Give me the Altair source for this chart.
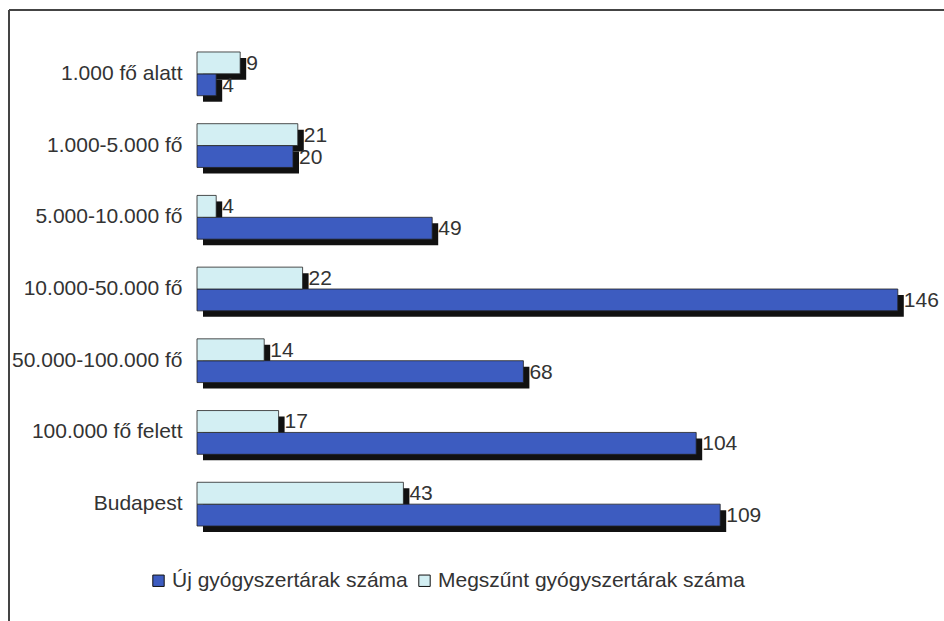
import altair as alt
import pandas as pd

categories = ["1.000 fő alatt", "1.000-5.000 fő", "5.000-10.000 fő", "10.000-50.000 fő",
              "50.000-100.000 fő", "100.000 fő felett", "Budapest"]
uj = [4, 20, 49, 146, 68, 104, 109]
megszunt = [9, 21, 4, 22, 14, 17, 43]
series = ["Új gyógyszertárak száma", "Megszűnt gyógyszertárak száma"]
colors = ["#3D5CC0", "#D3EFF3"]

rows = []
for c, a, b in zip(categories, uj, megszunt):
    rows.append({"cat": c, "series": series[0], "v": a})
    rows.append({"cat": c, "series": series[1], "v": b})
df = pd.DataFrame(rows)

FONT = "Liberation Sans"
H = 502
SH = 6  # shadow offset
order = [series[1], series[0]]

y = alt.Y("cat:N", sort=categories, title=None,
          scale=alt.Scale(paddingInner=0.39, paddingOuter=0.195),
          axis=alt.Axis(domain=False, ticks=False, labelPadding=15, labelFontSize=21,
                        labelColor="#333333", labelFont=FONT, labelLimit=300))
y_sh = alt.Y("cat:N", sort=categories, title=None,
             scale=alt.Scale(paddingInner=0.39, paddingOuter=0.195, range=[SH, H + SH]),
             axis=None)
y_lab = alt.Y("cat:N", sort=categories, title=None,
              scale=alt.Scale(paddingInner=0.39, paddingOuter=0.195), axis=None)
yoff = alt.YOffset("series:N", sort=order,
                   scale=alt.Scale(domain=order, paddingInner=0, paddingOuter=0))
yoff_lab = alt.YOffset("series:N", sort=order,
                       scale=alt.Scale(type="point", domain=order, padding=0.5))
x = alt.X("v:Q", scale=alt.Scale(domain=[0, 150]), axis=None, title=None)

base = alt.Chart(df)

shadow = base.mark_bar(color="#111111", xOffset=SH).encode(x=x, y=y_sh, yOffset=yoff)

bars = base.mark_bar(stroke="#222222", strokeWidth=0.8).encode(
    x=x, y=y, yOffset=yoff,
    color=alt.Color("series:N", scale=alt.Scale(domain=series, range=colors),
                    legend=alt.Legend(title=None, orient="none", direction="horizontal",
                                      legendX=-49, legendY=532, symbolType="square",
                                      symbolSize=130, symbolStrokeColor="#111111",
                                      symbolStrokeWidth=1, labelFontSize=21,
                                      labelColor="#333333", labelFont=FONT,
                                      labelLimit=500, columnPadding=6, labelOffset=3)),
)

labels = base.mark_text(align="left", baseline="middle", dx=6, dy=1, fontSize=21,
                        color="#333333", font=FONT).encode(
    x=x, y=y_lab, yOffset=yoff_lab, text=alt.Text("v:Q"))

border_top = alt.Chart(pd.DataFrame({"k": [0]})).mark_rule(color="#444444", strokeWidth=2).encode(
    x=alt.value(-188), x2=alt.value(760), y=alt.value(-28))
border_left = alt.Chart(pd.DataFrame({"k": [0]})).mark_rule(color="#444444", strokeWidth=2).encode(
    x=alt.value(-188), y=alt.value(-28), y2=alt.value(600))

chart = alt.layer(shadow, bars, labels, border_top, border_left).resolve_scale(
    y="independent", yOffset="independent"
).properties(
    width=720, height=H,
    padding={"left": 197, "top": 38, "right": 27, "bottom": 81},
    autosize=alt.AutoSizeParams(type="none"),
    background="white",
).configure_view(stroke=None)

chart.save("out.html", embed_options={"renderer": "svg", "actions": False})
